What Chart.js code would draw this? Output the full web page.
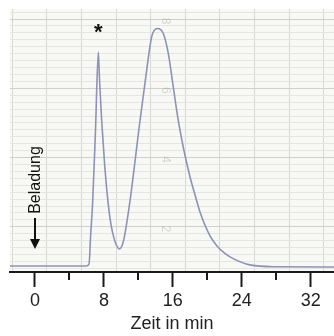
<!DOCTYPE html>
<html><head><meta charset="utf-8">
<script src="https://cdn.jsdelivr.net/npm/chart.js@4.4.1/dist/chart.umd.min.js"></script>
<style>html,body{margin:0;padding:0;background:#fff;}</style>
</head><body>
<canvas id="c" width="334" height="336"></canvas>
<script>
// ---- data ----
const timeMin = [-2.9, 0, 3, 5.92, 6.27, 6.45, 6.70, 7.02, 7.35, 7.49, 7.74, 8.1, 8.51, 8.82, 9.2, 9.5, 9.78, 10.05, 10.3, 10.64, 11.03, 12.19, 12.96, 13.54, 14.19, 14.89, 15.47, 16.05, 16.63, 17.3, 18.0, 18.6, 19.18, 20.31, 21.12, 22.0, 23.06, 24.95, 28, 34.7];
const signal  = [2.3, 2.3, 2.3, 2.3, 3.0, 13.4, 27.1, 53.8, 83.6, 72.9, 57.6, 40.0, 25.5, 18.0, 12.5, 9.8, 8.8, 9.6, 12.2, 18.5, 27.1, 57.6, 76.7, 89.4, 92.6, 90.7, 83.1, 70.3, 57.6, 46.0, 36.0, 29.0, 22.5, 13.7, 9.9, 7.2, 5.0, 2.7, 2.0, 1.9];
const majorTicks = [0, 8, 16, 24, 32];
const minorTicks = [4, 12, 20, 28];
const xLabel = 'Zeit in min';
const loadLabel = 'Beladung';
const loadTime = 0;
const peakMark = '*';
const peakMarkTime = 7.35;
const paperLabels = ['8', '6', '4', '2'];
const paperLabelLevels = [10, 0, -10, -20];

const X_MIN = -2.9, X_MAX = 34.7;
const PAPER_X0 = -2.65, PAPER_DX = 4.02;   // vertical graph-paper lines (min)
const PAPER_Y0 = 69.85, PAPER_DY = 2.634;  // horizontal graph-paper lines (signal units)
const FONT = '"Liberation Sans", Arial, sans-serif';

const paperPlugin = {
  id: 'paper',
  beforeDraw(chart) {
    const a = chart.chartArea, c = chart.ctx;
    c.save(); c.fillStyle = '#f8f9f4'; c.fillRect(a.left, a.top, a.right - a.left, a.bottom - a.top); c.restore();
  },
  beforeDatasetsDraw(chart) {
    const c = chart.ctx, y2 = chart.scales.y2;
    c.save();
    c.fillStyle = 'rgba(150,150,145,0.35)';
    c.font = '12px ' + FONT;
    c.textAlign = 'center'; c.textBaseline = 'middle';
    const px = chart.scales.x.getPixelForValue(15.1);
    paperLabels.forEach((t, i) => {
      const py = y2.getPixelForValue(paperLabelLevels[i]);
      c.save(); c.translate(px, py + 2); c.rotate(Math.PI / 2); c.fillText(t, 0, 0); c.restore();
    });
    c.restore();
  },
  afterDraw(chart) {
    const c = chart.ctx, x = chart.scales.x, y = chart.scales.y, a = chart.chartArea;
    c.save();
    // minor ticks
    c.strokeStyle = '#1a1a1a'; c.lineWidth = 2;
    minorTicks.forEach(v => {
      const px = Math.round(x.getPixelForValue(v));
      c.beginPath(); c.moveTo(px, a.bottom); c.lineTo(px, a.bottom + 8); c.stroke();
    });
    // peak marker
    const pi = timeMin.indexOf(peakMarkTime);
    c.fillStyle = '#111';
    c.font = 'bold 22px ' + FONT;
    c.textAlign = 'center'; c.textBaseline = 'middle';
    c.fillText(peakMark, x.getPixelForValue(peakMarkTime), y.getPixelForValue(signal[pi]) - 19);
    // loading arrow
    const lx = Math.round(x.getPixelForValue(loadTime));
    const tip = a.bottom - 23;
    c.strokeStyle = '#111'; c.lineWidth = 2;
    c.beginPath(); c.moveTo(lx, tip - 31); c.lineTo(lx, tip - 8); c.stroke();
    c.beginPath(); c.moveTo(lx - 5, tip - 10); c.lineTo(lx + 5, tip - 10); c.lineTo(lx, tip); c.closePath(); c.fill();
    c.font = '16px ' + FONT;
    c.save(); c.translate(lx + 1, tip - 69); c.rotate(-Math.PI / 2); c.fillText(loadLabel, 0, 0); c.restore();
    c.restore();
  }
};

const intRange = (lo, hi) => { const r = []; for (let k = Math.ceil(lo); k <= Math.floor(hi); k++) r.push({value: k}); return r; };

new Chart(document.getElementById('c'), {
  type: 'line',
  data: {
    datasets: [{
      data: timeMin.map((t, i) => ({x: t, y: signal[i]})),
      borderColor: '#8f92b8',
      borderWidth: 1.6,
      pointRadius: 0,
      cubicInterpolationMode: 'monotone',
      fill: false
    }]
  },
  options: {
    responsive: false,
    devicePixelRatio: 1,
    animation: false,
    layout: {padding: {top: 9, left: 10, right: 0, bottom: 3}},
    plugins: {legend: {display: false}, tooltip: {enabled: false}},
    scales: {
      x: {
        type: 'linear', position: 'bottom', min: X_MIN, max: X_MAX,
        afterBuildTicks: s => { s.ticks = majorTicks.concat(minorTicks).sort((p, q) => p - q).map(v => ({value: v})); },
        ticks: {
          callback: v => majorTicks.includes(v) ? String(v) : '',
          font: {family: FONT, size: 18, lineHeight: 1}, color: '#222', padding: 5, maxRotation: 0, autoSkip: false
        },
        grid: {
          drawOnChartArea: false, drawTicks: true, tickLength: 15, tickWidth: 2,
          tickColor: ctx => (ctx.tick && majorTicks.includes(ctx.tick.value)) ? '#1a1a1a' : 'rgba(0,0,0,0)'
        },
        border: {display: true, color: '#1a1a1a', width: 2},
        title: {display: true, text: xLabel, font: {family: FONT, size: 18, lineHeight: 1}, color: '#222', padding: {top: 0, bottom: 0}}
      },
      xg: {
        type: 'linear', position: 'top',
        min: (X_MIN - PAPER_X0) / PAPER_DX, max: (X_MAX - PAPER_X0) / PAPER_DX,
        afterBuildTicks: s => { s.ticks = intRange(s.min, s.max); },
        ticks: {display: false},
        grid: {drawTicks: false, color: '#d8d9d4', lineWidth: 1},
        border: {display: false}
      },
      y: {type: 'linear', display: false, min: 0, max: 100},
      y2: {
        type: 'linear', position: 'left',
        min: (0 - PAPER_Y0) / PAPER_DY, max: (100 - PAPER_Y0) / PAPER_DY,
        afterBuildTicks: s => { s.ticks = intRange(s.min, s.max); },
        ticks: {display: false},
        grid: {drawTicks: false, lineWidth: 1, color: ctx => (ctx.tick && ctx.tick.value % 10 === 0) ? '#d0d1cc' : '#e5e6e1'},
        border: {display: false}
      }
    }
  },
  plugins: [paperPlugin]
});
</script>
</body></html>
